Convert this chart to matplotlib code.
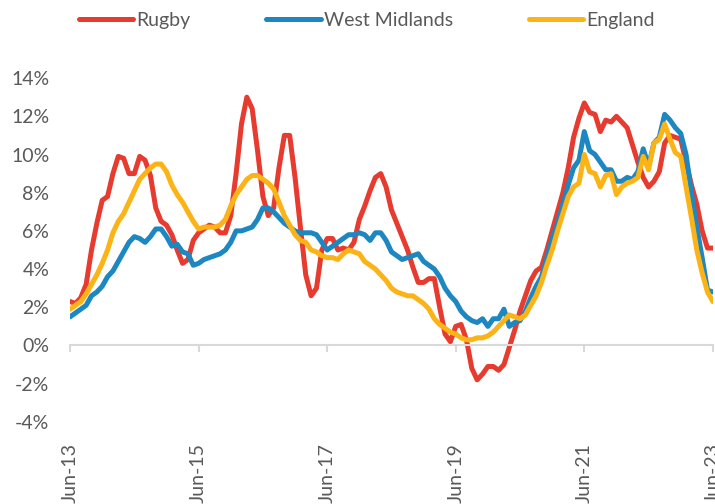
import numpy as np
import matplotlib
matplotlib.use('Agg')
import matplotlib.pyplot as plt

# Monthly growth rates, Jun-13 .. Jun-23 (121 months)
rugby = [2.3, 2.2, 2.5, 3.2, 5.0, 6.4, 7.6, 7.8, 9.0, 9.9,
         9.8, 9.0, 9.0, 9.9, 9.7, 8.9, 7.2, 6.5, 6.3, 5.8,
         5.0, 4.3, 4.5, 5.5, 5.9, 6.1, 6.3, 6.2, 5.9, 5.9,
         6.8, 9.0, 11.6, 13.0, 12.4, 10.2, 7.8, 6.8, 7.2, 9.3,
         11.0, 11.0, 8.8, 6.2, 3.7, 2.6, 3.0, 5.0, 5.6, 5.6,
         5.0, 5.1, 5.0, 5.4, 6.6, 7.3, 8.1, 8.8, 9.0, 8.3,
         7.1, 6.4, 5.7, 5.0, 4.1, 3.3, 3.3, 3.5, 3.5, 2.0,
         0.6, 0.2, 1.0, 1.1, 0.3, -1.2, -1.8, -1.5, -1.1, -1.1,
         -1.3, -1.0, -0.1, 0.8, 1.8, 2.6, 3.4, 3.9, 4.1, 5.0,
         6.0, 7.0, 8.0, 9.3, 10.9, 11.9, 12.7, 12.2, 12.1, 11.2,
         11.8, 11.7, 12.0, 11.7, 11.4, 10.5, 9.6, 8.8, 8.3, 8.6,
         9.1, 10.6, 11.0, 10.9, 10.8, 9.6, 8.4, 7.4, 6.0, 5.1,
         5.1]
west_midlands = [1.5, 1.7, 1.9, 2.1, 2.6, 2.8, 3.1, 3.6, 3.9, 4.4,
                 4.9, 5.4, 5.7, 5.6, 5.4, 5.7, 6.1, 6.1, 5.7, 5.2,
                 5.3, 4.9, 4.8, 4.2, 4.3, 4.5, 4.6, 4.7, 4.8, 5.0,
                 5.4, 6.0, 6.0, 6.1, 6.2, 6.6, 7.2, 7.2, 7.0, 6.7,
                 6.4, 6.2, 6.0, 5.9, 5.9, 5.9, 5.8, 5.4, 5.0, 5.2,
                 5.4, 5.6, 5.8, 5.8, 5.9, 5.8, 5.5, 5.9, 5.9, 5.5,
                 4.9, 4.7, 4.5, 4.6, 4.7, 4.8, 4.4, 4.2, 4.0, 3.6,
                 3.0, 2.6, 2.3, 1.8, 1.5, 1.3, 1.2, 1.4, 1.0, 1.4,
                 1.4, 1.9, 1.0, 1.2, 1.3, 1.8, 2.5, 3.1, 3.6, 4.6,
                 5.6, 6.4, 7.4, 8.4, 9.3, 9.7, 11.2, 10.2, 10.0, 9.6,
                 9.2, 9.2, 8.6, 8.6, 8.8, 8.7, 9.1, 10.3, 9.4, 10.6,
                 10.9, 12.1, 11.8, 11.4, 11.1, 10.0, 8.0, 6.2, 4.6, 2.9,
                 2.8]
england = [1.9, 2.1, 2.3, 2.7, 3.2, 3.7, 4.3, 5.0, 5.9, 6.5,
           6.9, 7.5, 8.1, 8.7, 9.0, 9.3, 9.5, 9.5, 9.1, 8.4,
           7.9, 7.5, 7.0, 6.5, 6.1, 6.2, 6.2, 6.2, 6.3, 6.6,
           7.3, 7.9, 8.3, 8.7, 8.9, 8.9, 8.7, 8.5, 8.2, 7.5,
           6.8, 6.3, 5.8, 5.5, 5.4, 5.0, 4.9, 4.7, 4.6, 4.6,
           4.5, 4.8, 5.0, 4.9, 4.8, 4.4, 4.2, 4.0, 3.7, 3.4,
           3.0, 2.8, 2.7, 2.6, 2.6, 2.4, 2.2, 1.9, 1.4, 1.1,
           0.9, 0.7, 0.6, 0.4, 0.3, 0.3, 0.4, 0.4, 0.5, 0.7,
           1.0, 1.3, 1.6, 1.5, 1.4, 1.6, 2.1, 2.6, 3.3, 4.2,
           5.0, 6.0, 6.9, 7.8, 8.3, 8.5, 10.0, 9.1, 9.0, 8.3,
           8.9, 9.0, 7.9, 8.3, 8.5, 8.6, 8.8, 9.9, 9.2, 10.6,
           10.8, 11.6, 10.8, 10.1, 9.9, 8.3, 6.7, 5.0, 3.8, 2.8,
           2.3]
tick_labels = ['Jun-13', 'Jun-15', 'Jun-17', 'Jun-19', 'Jun-21', 'Jun-23']
y_ticks = [-4, -2, 0, 2, 4, 6, 8, 10, 12, 14]

plt.rcParams['font.family'] = ['Lato', 'DejaVu Sans']
grey = '#595959'

fig = plt.figure(figsize=(7.15, 5.04), dpi=100)
ax = fig.add_axes([0.098, 0.163, 0.899, 0.682])

months = np.arange(len(rugby))
ax.plot(months, rugby, color='#E63B2E', lw=3.6, label='Rugby', solid_capstyle='round')
ax.plot(months, west_midlands, color='#1C87C1', lw=3.6, label='West Midlands', solid_capstyle='round')
ax.plot(months, england, color='#FBB316', lw=3.6, label='England', solid_capstyle='round')

ax.set_xlim(0, len(rugby) - 1)
ax.set_ylim(-4, 14)
ax.set_yticks(y_ticks)
ax.set_yticklabels([f'{v}%' for v in y_ticks], color=grey, fontsize=14)
ax.tick_params(axis='y', length=0, pad=15)

for s in ['top', 'right', 'left']:
    ax.spines[s].set_visible(False)
ax.spines['bottom'].set_position(('data', 0))
ax.spines['bottom'].set_color('#d9d9d9')
ax.spines['bottom'].set_linewidth(1.5)

ax.set_xticks(np.arange(0, len(rugby), 24))
ax.set_xticklabels(tick_labels, rotation=90, color=grey, fontsize=14, va='top')
ax.tick_params(axis='x', length=5, width=1.5, color='#d9d9d9', pad=65)
for lbl in ax.get_xticklabels():
    lbl.set_clip_on(False)

fig.legend(loc='center', bbox_to_anchor=(0.513, 0.96), ncol=3, frameon=False,
           fontsize=14, handlelength=2.8, columnspacing=3.9, handletextpad=0.15,
           labelcolor=grey)

fig.savefig('out.png', dpi=100)
